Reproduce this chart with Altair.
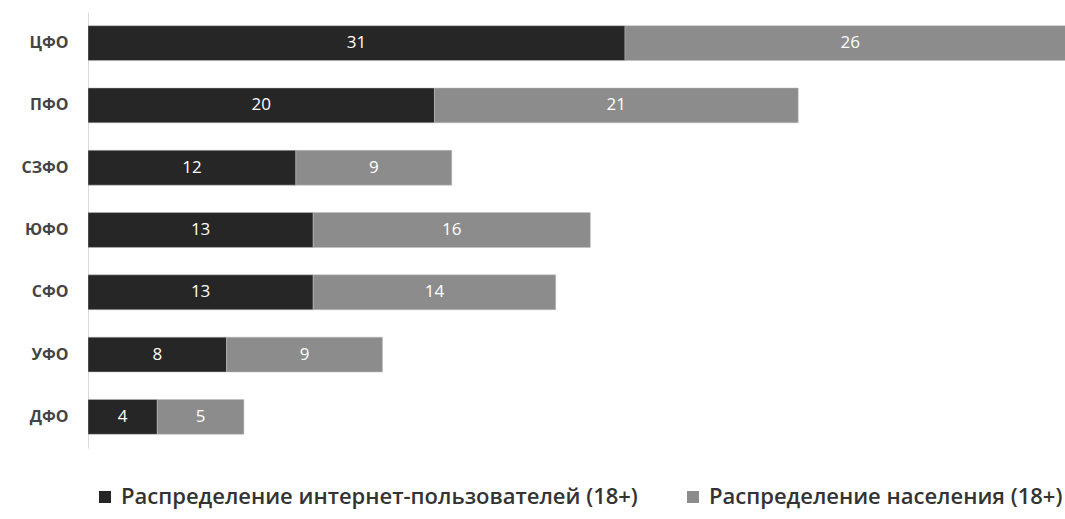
import altair as alt
import pandas as pd

regions = ["ЦФО", "ПФО", "СЗФО", "ЮФО", "СФО", "УФО", "ДФО"]
internet = [31, 20, 12, 13, 13, 8, 4]
population = [26, 21, 9, 16, 14, 9, 5]
series = ["Распределение интернет-пользователей (18+)", "Распределение населения (18+)"]
colors = ["#262626", "#8c8c8c"]

rows = []
for r, a, b in zip(regions, internet, population):
    rows.append({"region": r, "series": series[0], "value": a, "order": 0})
    rows.append({"region": r, "series": series[1], "value": b, "order": 1})
df = pd.DataFrame(rows)

FONT = "Open Sans"

base = alt.Chart(df).transform_stack(
    stack="value", groupby=["region"], sort=[alt.SortField("order")], as_=["x0", "x1"]
).transform_calculate(mid="(datum.x0 + datum.x1) / 2")

xscale = alt.Scale(domain=[0, 56.4], nice=False, zero=True)
y = alt.Y(
    "region:N", sort=regions, title=None,
    scale=alt.Scale(paddingInner=0.44, paddingOuter=0.22),
    axis=alt.Axis(labelFont=FONT, labelFontSize=16, labelFontWeight="bold",
                  labelColor="#444444", labelPadding=20, ticks=False,
                  domainColor="#d9d9d9", domainWidth=1),
)

bars = base.mark_bar(clip=True, stroke="#bfbfbf", strokeWidth=0.5).encode(
    x=alt.X("x0:Q", scale=xscale, axis=None),
    x2="x1:Q",
    y=y,
    color=alt.Color(
        "series:N",
        scale=alt.Scale(domain=series, range=colors),
        legend=alt.Legend(
            title=None, orient="none", legendX=6, legendY=474, direction="horizontal",
            symbolType="square", symbolSize=144, symbolStrokeWidth=0,
            labelFont=FONT, labelFontSize=22, labelColor="#333333", labelFontWeight=600,
            labelLimit=800, columnPadding=44, labelOffset=5,
        ),
    ),
)

text = base.mark_text(color="white", font=FONT, fontSize=17).encode(
    x=alt.X("mid:Q", scale=xscale, axis=None),
    y=alt.Y("region:N", sort=regions),
    text="value:Q",
)

chart = alt.layer(bars, text).properties(
    width=977, height=436,
    autosize=alt.AutoSizeParams(type="none"),
    padding={"left": 88, "top": 12, "right": 0, "bottom": 71},
).configure_view(stroke=None)

chart.save("out.html", embed_options={"renderer": "svg", "actions": False})
